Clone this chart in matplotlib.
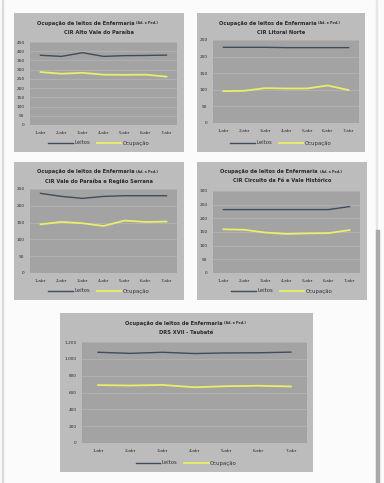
import matplotlib
matplotlib.use('Agg')
import matplotlib.pyplot as plt
from matplotlib.lines import Line2D
from matplotlib.patches import Rectangle
from matplotlib.ticker import MultipleLocator, FuncFormatter

W, H = 384, 483

DAYS = ['1-abr', '2-abr', '3-abr', '4-abr', '5-abr', '6-abr', '7-abr']

# CIR Alto Vale do Paraíba
alto_leitos = [378, 372, 392, 372, 376, 377, 379]
alto_ocup = [287, 278, 283, 273, 272, 273, 262]

# CIR Litoral Norte
litoral_leitos = [228, 228, 228, 227, 227, 227, 227]
litoral_ocup = [96, 97, 105, 104, 104, 113, 99]

# CIR Vale do Paraíba e Região Serrana
serrana_leitos = [237, 228, 222, 228, 230, 230, 230]
serrana_ocup = [145, 152, 148, 140, 156, 152, 153]

# CIR Circuito da Fé e Vale Histórico
circuito_leitos = [232, 232, 232, 232, 232, 232, 243]
circuito_ocup = [160, 158, 148, 143, 145, 146, 157]

# DRS XVII - Taubaté
drs_leitos = [1078, 1065, 1078, 1063, 1070, 1072, 1080]
drs_ocup = [688, 683, 690, 662, 675, 680, 672]

PANEL = '#bcbcbc'
PLOT = '#a3a3a3'
GRID = '#b5b5b5'
C_LEITOS = '#3f4c5c'
C_OCUP = '#e9ee6a'
TXT = '#2a2a2a'


def rect(x0, y0, x1, y1):
    return [x0 / W, 1 - y1 / H, (x1 - x0) / W, (y1 - y0) / H]


def thousands(v, pos):
    return f'{int(v):,}'.replace(',', '.')


def chart(fig, panel, plot, subtitle, leitos, ocup, ymax, step, fmt=None):
    px0, py0, px1, py1 = panel
    bg = fig.add_axes(rect(*panel))
    bg.set_facecolor(PANEL)
    bg.set_xticks([])
    bg.set_yticks([])
    for s in bg.spines.values():
        s.set_visible(False)

    # Title
    w = px1 - px0
    h = py1 - py0
    y1 = 1 - 10 / h
    y2 = 1 - 19 / h
    bg.text(0.5 + 36 / w, y1, 'Ocupação de leitos de Enfermaria',
            ha='right', va='center', fontsize=3.7, fontweight='bold',
            color=TXT, transform=bg.transAxes)
    bg.text(0.5 + 37.5 / w, y1 - 0.3 / h, '(Ad. e Ped.)',
            ha='left', va='center', fontsize=2.3, fontweight='bold',
            color=TXT, transform=bg.transAxes)
    bg.text(0.5, y2, subtitle, ha='center', va='center', fontsize=3.7,
            fontweight='bold', color=TXT, transform=bg.transAxes)

    ax = fig.add_axes(rect(*plot))
    ax.set_facecolor(PLOT)
    for s in ax.spines.values():
        s.set_visible(False)
    x = range(len(DAYS))
    ax.plot(x, leitos, color=C_LEITOS, lw=1.0, label='Leitos')
    ax.plot(x, ocup, color=C_OCUP, lw=1.3, label='Ocupação')
    ax.set_xlim(-0.5, len(DAYS) - 0.5)
    ax.set_ylim(0, ymax)
    ax.yaxis.set_major_locator(MultipleLocator(step))
    if fmt:
        ax.yaxis.set_major_formatter(FuncFormatter(fmt))
    ax.set_xticks(list(x))
    ax.set_xticklabels(DAYS)
    ax.tick_params(length=0, labelsize=3.1, colors=TXT, pad=4)
    ax.grid(axis='y', color=GRID, lw=0.5)
    ax.set_axisbelow(True)

    # Legend
    handles = [Line2D([], [], color=C_LEITOS, lw=1.0),
               Line2D([], [], color=C_OCUP, lw=1.3)]
    leg_y = 1 - (py1 - 9 - py0) / h
    bg.legend(handles, ['Leitos', 'Ocupação'], loc='center',
              bbox_to_anchor=(0.5, leg_y), ncol=2, frameon=False,
              fontsize=3.9, handlelength=4.5, columnspacing=1.2,
              handletextpad=0.3, labelcolor='#333333')
    return ax


def main():
    fig = plt.figure(figsize=(W / 100, H / 100), dpi=100)
    fig.patch.set_facecolor('#fbfbfb')

    chart(fig, (14, 13, 184, 152), (30, 42, 177, 125),
          'CIR Alto Vale do Paraíba', alto_leitos, alto_ocup, 450, 50)
    chart(fig, (197, 13, 365, 152), (213, 40, 359, 123),
          'CIR Litoral Norte', litoral_leitos, litoral_ocup, 250, 50)
    chart(fig, (14, 162, 184, 300), (30, 189, 177, 273),
          'CIR Vale do Paraíba e Região Serrana', serrana_leitos,
          serrana_ocup, 250, 50)
    chart(fig, (197, 162, 367, 300), (213, 191, 360, 273),
          'CIR Circuito da Fé e Vale Histórico', circuito_leitos,
          circuito_ocup, 300, 50)
    chart(fig, (60, 313, 313, 472), (82, 342, 307, 443),
          'DRS XVII - Taubaté', drs_leitos, drs_ocup, 1200, 200, thousands)

    # Page edges and scrollbar
    fig.add_artist(Rectangle((2 / W, 0), 1.5 / W, 1, color='#dcdcdc',
                             transform=fig.transFigure))
    fig.add_artist(Rectangle((376 / W, 0), 1.2 / W, 1, color='#e6e6e6',
                             transform=fig.transFigure, zorder=-1))
    fig.add_artist(Rectangle((376 / W, 0), 2.5 / W, 1 - 230 / H,
                             color='#a8a8a8', transform=fig.transFigure))

    fig.savefig('out.png', dpi=100, facecolor=fig.get_facecolor())


if __name__ == '__main__':
    main()
